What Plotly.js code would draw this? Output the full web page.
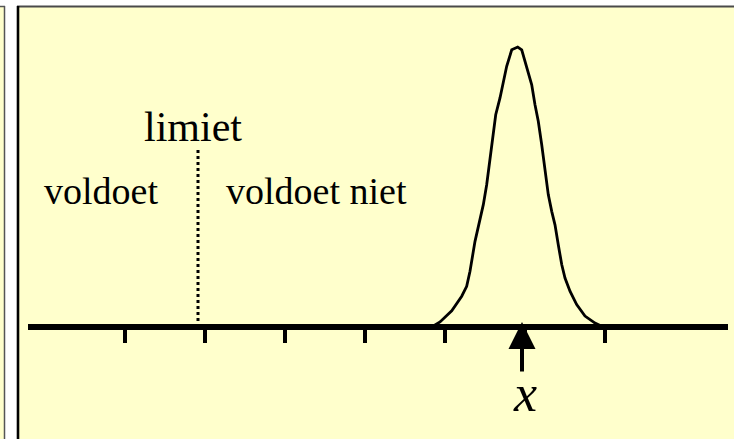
<!DOCTYPE html>
<html>
<head>
<meta charset="utf-8">
<script src="https://cdn.plot.ly/plotly-3.0.1.min.js"></script>
<style>
  html, body { margin: 0; padding: 0; background: #ffffff; }
  #chart { width: 734px; height: 439px; }
</style>
</head>
<body>
<div id="chart"></div>
<script>
// Measurement distribution along the axis (position, relative density)
const curveX = [4.834, 4.9375, 5.084, 5.209, 5.271, 5.3125, 5.375, 5.416, 5.479, 5.521,
                5.5625, 5.604, 5.634, 5.6875, 5.729, 5.771, 5.834, 5.909, 5.959, 6.021,
                6.084, 6.125, 6.166, 6.209, 6.25, 6.291, 6.334, 6.375, 6.416, 6.459,
                6.5, 6.5625, 6.646, 6.75, 6.875, 6.979];
const curveY = [0.0, 0.018, 0.058, 0.110, 0.145, 0.199, 0.306, 0.354, 0.437, 0.508,
                0.604, 0.687, 0.758, 0.818, 0.878, 0.931, 0.990, 1.0, 0.990, 0.931,
                0.865, 0.794, 0.735, 0.651, 0.556, 0.473, 0.413, 0.365, 0.294, 0.223,
                0.175, 0.128, 0.080, 0.039, 0.014, 0.0];

// Tick marks on the measurement axis
const tickValues = [1, 2, 3, 4, 5, 6, 7];

// Key positions
const limitValue = 1.9125;     // the limit (dotted line)
const measuredValue = 5.9625;  // measured result x (arrow)

// Labels
const labelLimit = 'limiet';
const labelPass = 'voldoet';
const labelFail = 'voldoet niet';
const labelMeasured = 'x';

const W = 734, H = 439;
const px = v => v / W;           // pixel -> paper x
const py = v => 1 - v / H;       // pixel -> paper y
const yellow = '#ffffcc';
const serif = '"Liberation Serif", "Times New Roman", serif';

const axisStart = -0.2125, axisEnd = 8.5375;

const traces = [{
  type: 'scatter',
  mode: 'lines',
  x: curveX,
  y: curveY,
  line: { color: '#000000', width: 2.8 },
  hoverinfo: 'skip'
}];

const shapes = [
  // panels
  { type: 'rect', xref: 'paper', yref: 'paper', layer: 'below',
    x0: px(0), x1: px(4.5), y0: py(H), y1: py(6.5),
    fillcolor: yellow, line: { width: 0 } },
  { type: 'line', xref: 'paper', yref: 'paper', layer: 'below',
    x0: px(4.5), x1: px(4.5), y0: py(H), y1: py(6), line: { color: '#555555', width: 1.5 } },
  { type: 'line', xref: 'paper', yref: 'paper', layer: 'below',
    x0: px(0), x1: px(5), y0: py(6.5), y1: py(6.5), line: { color: '#555555', width: 1.5 } },
  { type: 'rect', xref: 'paper', yref: 'paper', layer: 'below',
    x0: px(18), x1: px(W + 10), y0: py(H + 10), y1: py(6.5),
    fillcolor: yellow, line: { width: 0 } },
  { type: 'line', xref: 'paper', yref: 'paper', layer: 'below',
    x0: px(17), x1: px(W + 10), y0: py(6.5), y1: py(6.5), line: { color: '#4a4a4a', width: 2 } },
  { type: 'line', xref: 'paper', yref: 'paper', layer: 'below',
    x0: px(18), x1: px(18), y0: py(H + 10), y1: py(6), line: { color: '#000000', width: 2.6 } },
  // limit line
  { type: 'line', xref: 'x', yref: 'y',
    x0: limitValue, x1: limitValue, y0: 0, y1: 0.64,
    line: { color: '#000000', width: 3, dash: '3px,3px' } },
  // measurement axis
  { type: 'line', xref: 'x', yref: 'y',
    x0: axisStart, x1: axisEnd, y0: 0, y1: 0,
    line: { color: '#000000', width: 6 } }
];

const annotations = [
  { xref: 'x', yref: 'y', x: 1.844, y: 0.714, text: labelLimit, showarrow: false,
    font: { family: serif, size: 42, color: '#000000' } },
  { xref: 'x', yref: 'y', x: 0.694, y: 0.486, text: labelPass, showarrow: false,
    font: { family: serif, size: 38, color: '#000000' } },
  { xref: 'x', yref: 'y', x: 3.394, y: 0.486, text: labelFail, showarrow: false,
    font: { family: serif, size: 38, color: '#000000' } },
  { xref: 'x', yref: 'y', x: measuredValue, y: 0.018, text: '', showarrow: true,
    ax: 0, ay: 51, arrowhead: 2, arrowsize: 1.35, arrowwidth: 4, arrowcolor: '#000000' },
  { xref: 'x', yref: 'y', x: 5.994, y: -0.236, text: '<i>' + labelMeasured + '</i>', showarrow: false,
    font: { family: serif, size: 52, color: '#000000' } }
];

const layout = {
  width: W,
  height: H,
  margin: { l: 0, r: 0, t: 0, b: 0, pad: 0 },
  paper_bgcolor: '#ffffff',
  plot_bgcolor: 'rgba(0,0,0,0)',
  showlegend: false,
  xaxis: {
    domain: [28 / W, 728 / W],
    range: [axisStart, axisEnd],
    anchor: 'free',
    position: (H - 327) / H,
    showgrid: false,
    zeroline: false,
    showline: false,
    tickmode: 'array',
    tickvals: tickValues,
    ticks: 'outside',
    ticklen: 15,
    tickwidth: 3.5,
    tickcolor: '#000000',
    showticklabels: false,
    fixedrange: true
  },
  yaxis: {
    domain: [0, 1],
    range: [(327 - H) / 280, 327 / 280],
    visible: false,
    fixedrange: true
  },
  shapes: shapes,
  annotations: annotations
};

Plotly.newPlot('chart', traces, layout, { staticPlot: true, displayModeBar: false });
</script>
</body>
</html>
